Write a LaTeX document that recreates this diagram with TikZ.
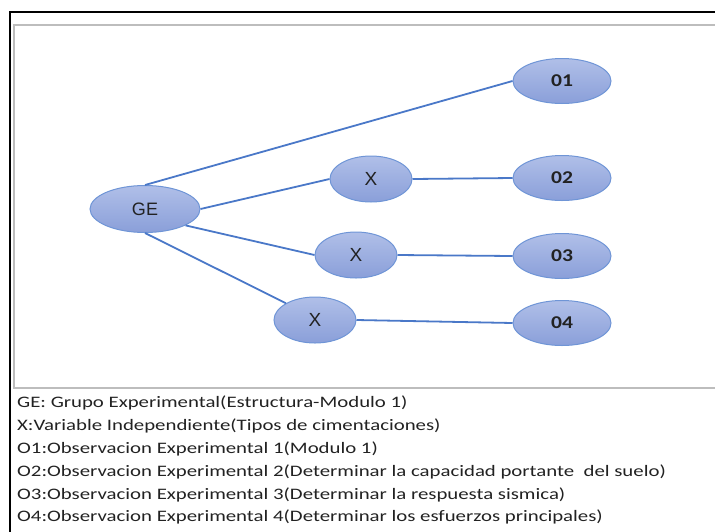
\documentclass[tikz,border=0pt]{standalone}
\usepackage{fontspec}
\setmainfont{Carlito}
\newfontfamily\arialfont{Liberation Sans}
\newfontfamily\legendfont[FakeStretch=1.3]{Carlito}
\newfontfamily\ofont[FakeStretch=1.2]{Carlito}
\usetikzlibrary{shapes.geometric}
\definecolor{edge}{HTML}{4A78C8}
\definecolor{rim}{HTML}{6F95D6}
\definecolor{filltop}{HTML}{B0BFE8}
\definecolor{fillbot}{HTML}{8A9FD9}
\definecolor{ink}{HTML}{222222}
\definecolor{frame}{HTML}{BDBDBD}
\tikzset{
  bubble/.style={ellipse,draw=rim,line width=1pt,top color=filltop,bottom color=fillbot,inner sep=0pt,text=ink},
  gebox/.style={bubble,minimum width=110pt,minimum height=47pt,font=\arialfont\fontsize{18}{18}\selectfont},
  xbox/.style={bubble,minimum width=82pt,minimum height=46pt,font=\arialfont\fontsize{19}{19}\selectfont},
  obox/.style={bubble,minimum width=98pt,minimum height=45pt,font=\ofont\bfseries\fontsize{18}{18}\selectfont},
  link/.style={draw=edge,line width=1.8pt},
  legend/.style={anchor=west,inner sep=0pt,text=ink,font=\legendfont\fontsize{16}{16}\selectfont},
}
\begin{document}
\begin{tikzpicture}[x=1pt,y=-1pt]
  \useasboundingbox (0,0) rectangle (715,531);
  % frames
  \draw[line width=1.6pt] (10,540) -- (10,12) -- (720,12);
  \draw[frame,line width=2pt] (14,25) rectangle (720,388);
  % nodes
  \node[gebox] (ge) at (145,209) {GE};
  \node[xbox] (x1) at (371,179) {X};
  \node[xbox] (x2) at (356,255) {X};
  \node[xbox] (x3) at (315,320) {X};
  \node[obox] (o1) at (562,81) {01};
  \node[obox] (o2) at (562,178) {02};
  \node[obox] (o3) at (562,256) {03};
  \node[obox] (o4) at (562,323) {04};
  % links
  \draw[link] (ge.north) -- (o1.west);
  \draw[link] (ge.east) -- (x1.west);
  \draw[link] (ge.-22) -- (x2.west);
  \draw[link] (ge.south) -- (x3.150);
  \draw[link] (x1.east) -- (o2.west);
  \draw[link] (x2.east) -- (o3.west);
  \draw[link] (x3.east) -- (o4.west);
  % legend
  \node[legend] (l1) at (17,403) {GE: Grupo Experimental(Estructura-Modulo 1)};
  \node[legend] (l2) at (17,426) {X:Variable Independiente(Tipos de cimentaciones)};
  \node[legend] (l3) at (17,449) {O1:Observacion Experimental 1(Modulo 1)};
  \node[legend] (l4) at (17,472) {O2:Observacion Experimental 2(Determinar la capacidad portante\ \ del suelo)};
  \node[legend] (l5) at (17,495) {O3:Observacion Experimental 3(Determinar la respuesta sismica)};
  \node[legend] (l6) at (17,517) {O4:Observacion Experimental 4(Determinar los esfuerzos principales)};
\end{tikzpicture}
\end{document}
